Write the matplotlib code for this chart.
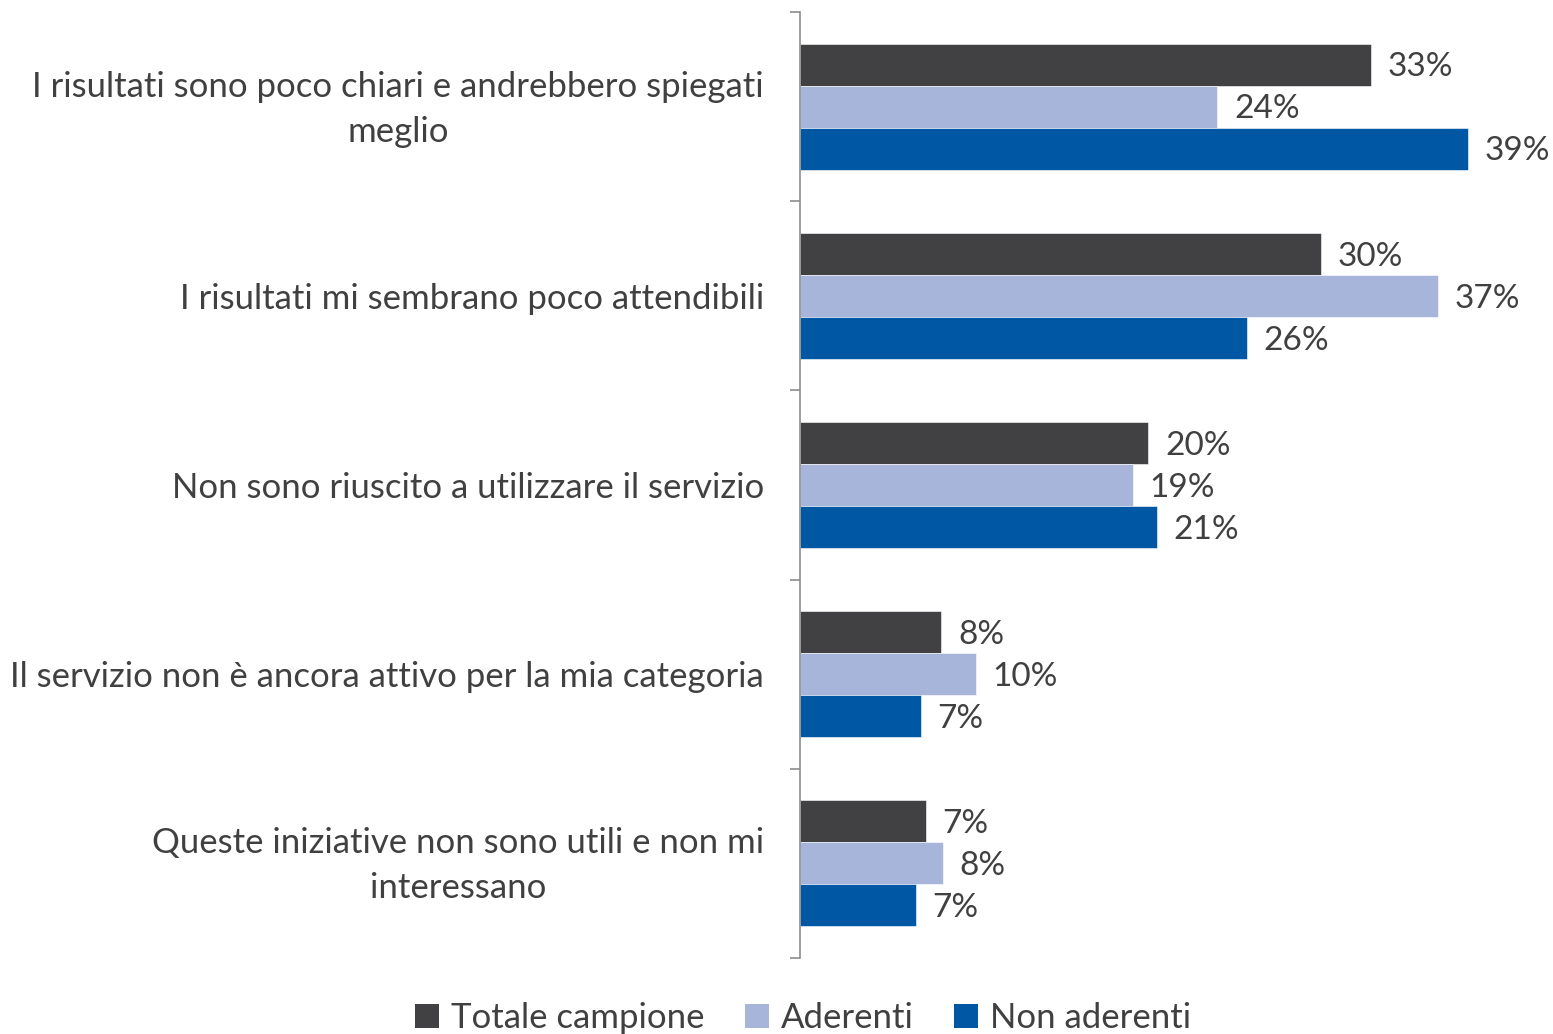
import numpy as np
import matplotlib
matplotlib.use('Agg')
import matplotlib.pyplot as plt
import matplotlib.transforms as mtransforms
from matplotlib.patches import Patch

plt.rcParams['font.family'] = ['Lato', 'DejaVu Sans']

categories = ['I risultati sono poco chiari e andrebbero spiegati\nmeglio',
              'I risultati mi sembrano poco attendibili',
              'Non sono riuscito a utilizzare il servizio',
              'Il servizio non è ancora attivo per la mia categoria',
              'Queste iniziative non sono utili e non mi\ninteressano']
series_names = ['Totale campione', 'Aderenti', 'Non aderenti']
totale = [33.1, 30.2, 20.2, 8.2, 7.3]
aderenti = [24.2, 37.0, 19.3, 10.2, 8.3]
non_aderenti = [38.7, 25.9, 20.7, 7.0, 6.7]
colors = ['#414143', '#a6b5d9', '#0057a3']

text_col = '#404040'
fs = 25

fig = plt.figure(figsize=(15.53, 10.34), dpi=100)
ax = fig.add_axes([800 / 1553, 76 / 1034, 753 / 1553, 946 / 1034])

y = np.arange(len(categories))
h = 0.222
for i, (vals, c) in enumerate(zip([totale, aderenti, non_aderenti], colors)):
    pos = y + (i - 1) * h
    ax.barh(pos, vals, height=h, color=c, edgecolor='white', linewidth=0.4)
    for p, v in zip(pos, vals):
        ax.annotate(f'{round(v)}%', (v, p), xytext=(12, -2), textcoords='offset points',
                    va='center', ha='left', fontsize=24, color=text_col)

ax.set_xlim(0, 753 / 17.25)
ax.set_ylim(len(categories) - 0.5, -0.5)
ax.set_yticks(y)
ax.set_yticklabels(categories, fontsize=fs, color=text_col, multialignment='center',
                   linespacing=1.5)
ax.tick_params(axis='y', which='major', length=0, pad=26)
ax.set_yticks(np.arange(-0.5, len(categories)), minor=True)
ax.tick_params(axis='y', which='minor', length=7, color='#8c8c8c', width=1.2)
ax.set_xticks([])
for s in ['top', 'right', 'bottom']:
    ax.spines[s].set_visible(False)
ax.spines['left'].set_color('#8c8c8c')
ax.spines['left'].set_linewidth(1.2)

# nudge two-line labels up a little
shift = mtransforms.ScaledTranslation(0, 7 / 100, fig.dpi_scale_trans)
for lab in ax.get_yticklabels():
    if '\n' in lab.get_text():
        lab.set_transform(lab.get_transform() + shift)

handles = [Patch(facecolor=c, edgecolor='none') for c in colors]
fig.legend(handles, series_names, loc='center', bbox_to_anchor=(803 / 1553, 16 / 1034),
           ncol=3, frameon=False, fontsize=fs, handlelength=0.7, handleheight=0.7,
           handletextpad=0.35, columnspacing=1.15, labelcolor=text_col)

fig.savefig('out.png', dpi=100)
